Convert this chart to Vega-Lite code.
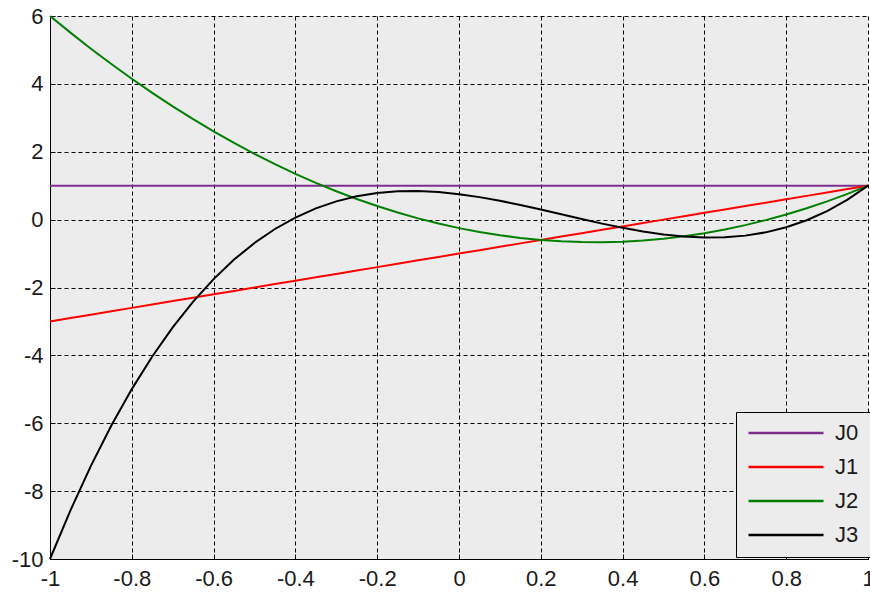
{
  "$schema": "https://vega.github.io/schema/vega-lite/v6.json",
  "width": 818,
  "height": 543,
  "autosize": {"type": "none"},
  "padding": {"left": 50, "top": 16, "right": 2, "bottom": 35},
  "background": "white",
  "config": {
    "view": {"fill": "#ececec", "stroke": null},
    "font": "Liberation Sans"
  },
  "data": {
    "values": [
      {"x": -1, "J0": 1, "J1": -3, "J2": 6, "J3": -10},
      {"x": -0.95, "J0": 1, "J1": -2.9, "J2": 5.5094, "J3": -8.5648},
      {"x": -0.9, "J0": 1, "J1": -2.8, "J2": 5.0375, "J3": -7.2555},
      {"x": -0.85, "J0": 1, "J1": -2.7, "J2": 4.5844, "J3": -6.067},
      {"x": -0.8, "J0": 1, "J1": -2.6, "J2": 4.15, "J3": -4.994},
      {"x": -0.75, "J0": 1, "J1": -2.5, "J2": 3.7344, "J3": -4.0313},
      {"x": -0.7, "J0": 1, "J1": -2.4, "J2": 3.3375, "J3": -3.1735},
      {"x": -0.65, "J0": 1, "J1": -2.3, "J2": 2.9594, "J3": -2.4155},
      {"x": -0.6, "J0": 1, "J1": -2.2, "J2": 2.6, "J3": -1.752},
      {"x": -0.55, "J0": 1, "J1": -2.1, "J2": 2.2594, "J3": -1.1778},
      {"x": -0.5, "J0": 1, "J1": -2, "J2": 1.9375, "J3": -0.6875},
      {"x": -0.45, "J0": 1, "J1": -1.9, "J2": 1.6344, "J3": -0.276},
      {"x": -0.4, "J0": 1, "J1": -1.8, "J2": 1.35, "J3": 0.062},
      {"x": -0.35, "J0": 1, "J1": -1.7, "J2": 1.0844, "J3": 0.3318},
      {"x": -0.3, "J0": 1, "J1": -1.6, "J2": 0.8375, "J3": 0.5385},
      {"x": -0.25, "J0": 1, "J1": -1.5, "J2": 0.6094, "J3": 0.6875},
      {"x": -0.2, "J0": 1, "J1": -1.4, "J2": 0.4, "J3": 0.784},
      {"x": -0.15, "J0": 1, "J1": -1.3, "J2": 0.2094, "J3": 0.8333},
      {"x": -0.1, "J0": 1, "J1": -1.2, "J2": 0.0375, "J3": 0.8405},
      {"x": -0.05, "J0": 1, "J1": -1.1, "J2": -0.1156, "J3": 0.811},
      {"x": 0, "J0": 1, "J1": -1, "J2": -0.25, "J3": 0.75},
      {"x": 0.05, "J0": 1, "J1": -0.9, "J2": -0.3656, "J3": 0.6628},
      {"x": 0.1, "J0": 1, "J1": -0.8, "J2": -0.4625, "J3": 0.5545},
      {"x": 0.15, "J0": 1, "J1": -0.7, "J2": -0.5406, "J3": 0.4305},
      {"x": 0.2, "J0": 1, "J1": -0.6, "J2": -0.6, "J3": 0.296},
      {"x": 0.25, "J0": 1, "J1": -0.5, "J2": -0.6406, "J3": 0.1563},
      {"x": 0.3, "J0": 1, "J1": -0.4, "J2": -0.6625, "J3": 0.0165},
      {"x": 0.35, "J0": 1, "J1": -0.3, "J2": -0.6656, "J3": -0.118},
      {"x": 0.4, "J0": 1, "J1": -0.2, "J2": -0.65, "J3": -0.242},
      {"x": 0.45, "J0": 1, "J1": -0.1, "J2": -0.6156, "J3": -0.3503},
      {"x": 0.5, "J0": 1, "J1": 0, "J2": -0.5625, "J3": -0.4375},
      {"x": 0.55, "J0": 1, "J1": 0.1, "J2": -0.4906, "J3": -0.4985},
      {"x": 0.6, "J0": 1, "J1": 0.2, "J2": -0.4, "J3": -0.528},
      {"x": 0.65, "J0": 1, "J1": 0.3, "J2": -0.2906, "J3": -0.5208},
      {"x": 0.7, "J0": 1, "J1": 0.4, "J2": -0.1625, "J3": -0.4715},
      {"x": 0.75, "J0": 1, "J1": 0.5, "J2": -0.0156, "J3": -0.375},
      {"x": 0.8, "J0": 1, "J1": 0.6, "J2": 0.15, "J3": -0.226},
      {"x": 0.85, "J0": 1, "J1": 0.7, "J2": 0.3344, "J3": -0.0193},
      {"x": 0.9, "J0": 1, "J1": 0.8, "J2": 0.5375, "J3": 0.2505},
      {"x": 0.95, "J0": 1, "J1": 0.9, "J2": 0.7594, "J3": 0.5885},
      {"x": 1, "J0": 1, "J1": 1, "J2": 1, "J3": 1}
    ]
  },
  "transform": [{"fold": ["J0", "J1", "J2", "J3"], "as": ["series", "value"]}],
  "mark": {"type": "line", "strokeWidth": 2},
  "encoding": {
    "x": {
      "field": "x",
      "type": "quantitative",
      "scale": {"domain": [-1, 1], "nice": false, "zero": false},
      "axis": {
        "title": null,
        "values": [-1, -0.8, -0.6, -0.4, -0.2, 0, 0.2, 0.4, 0.6, 0.8, 1],
        "labelExpr": "replace(format(datum.value, '~g'), '\u2212', '-')",
        "domainColor": "black",
        "domainWidth": 1,
        "tickColor": "black",
        "tickSize": -5,
        "labelFontSize": 22,
        "labelColor": "#1a1a1a",
        "labelPadding": 14,
        "labelFlush": false,
        "labelOverlap": false,
        "grid": true,
        "gridColor": "black",
        "gridDash": [4, 3],
        "gridWidth": 1,
        "gridOpacity": 1
      }
    },
    "y": {
      "field": "value",
      "type": "quantitative",
      "scale": {"domain": [-10, 6], "nice": false, "zero": false},
      "axis": {
        "title": null,
        "values": [-10, -8, -6, -4, -2, 0, 2, 4, 6],
        "labelExpr": "replace(format(datum.value, '~g'), '\u2212', '-')",
        "domainColor": "black",
        "domainWidth": 1,
        "tickColor": "black",
        "tickSize": -5,
        "labelFontSize": 22,
        "labelColor": "#1a1a1a",
        "labelPadding": 12,
        "labelFlush": false,
        "labelOverlap": false,
        "grid": true,
        "gridColor": "black",
        "gridDash": [4, 3],
        "gridWidth": 1,
        "gridOpacity": 1
      }
    },
    "color": {
      "field": "series",
      "type": "nominal",
      "scale": {
        "domain": ["J0", "J1", "J2", "J3"],
        "range": ["#7e2f8e", "#ff0000", "#008000", "#000000"]
      },
      "legend": {
        "title": null,
        "orient": "none",
        "legendX": 686,
        "legendY": 396,
        "symbolType": "stroke",
        "symbolSize": 5625,
        "symbolStrokeWidth": 2.5,
        "clipHeight": 20,
        "labelFontSize": 22,
        "labelColor": "#1a1a1a",
        "labelOffset": 10,
        "rowPadding": 12,
        "padding": 11,
        "fillColor": "#ececec",
        "strokeColor": "black"
      }
    }
  }
}
